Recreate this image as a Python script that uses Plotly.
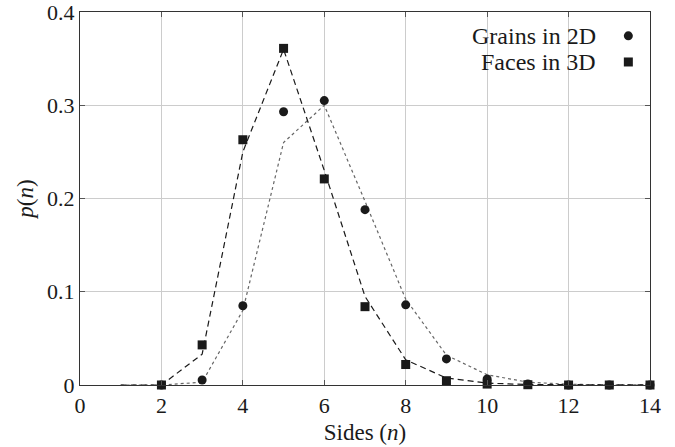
import plotly.graph_objects as go

# ---- data ----
n_fit = [1, 2, 3, 4, 5, 6, 7, 8, 9, 10, 11, 12, 13, 14]
grains_fit = [0, 0, 0.003, 0.08, 0.26, 0.30, 0.197, 0.092, 0.032, 0.011, 0.003, 0.0008, 0.0002, 0]
faces_fit = [0, 0, 0.033, 0.25, 0.36, 0.23, 0.095, 0.027, 0.0075, 0.002, 0.0005, 0.0001, 0, 0]

n_pts = [2, 3, 4, 5, 6, 7, 8, 9, 10, 11, 12, 13, 14]
grains_2d = [0, 0.0054, 0.085, 0.293, 0.305, 0.188, 0.086, 0.028, 0.0065, 0.0012, 0, 0, 0]
faces_3d = [0, 0.043, 0.263, 0.361, 0.221, 0.084, 0.022, 0.0046, 0.001, 0.0003, 0, 0, 0]

x_ticks = [0, 2, 4, 6, 8, 10, 12, 14]
y_ticks = [0, 0.1, 0.2, 0.3, 0.4]
y_tick_text = ["0", "0.1", "0.2", "0.3", "0.4"]
legend_names = ["Grains in 2D", "Faces in 3D"]

FONT = "Liberation Serif"
INK = "#1a1a1a"

fig = go.Figure()
fig.add_trace(go.Scatter(x=n_fit, y=grains_fit, mode="lines",
                         line=dict(color="#666666", width=1.2, dash="dot"),
                         showlegend=False, hoverinfo="skip"))
fig.add_trace(go.Scatter(x=n_fit, y=faces_fit, mode="lines",
                         line=dict(color=INK, width=1.2, dash="6px,4px"),
                         showlegend=False, hoverinfo="skip"))
fig.add_trace(go.Scatter(x=n_pts, y=grains_2d, mode="markers", name=legend_names[0],
                         marker=dict(symbol="circle", size=9, color=INK),
                         cliponaxis=False, showlegend=False))
fig.add_trace(go.Scatter(x=n_pts, y=faces_3d, mode="markers", name=legend_names[1],
                         marker=dict(symbol="square", size=9, color=INK),
                         cliponaxis=False, showlegend=False))

# manual legend (text left, symbol right)
leg_x_text = 0.909
leg_x_sym = 0.962
leg_y = [0.936, 0.866]
for name, yy in zip(legend_names, leg_y):
    fig.add_annotation(x=leg_x_text, y=yy, xref="paper", yref="paper",
                       text=name, showarrow=False, xanchor="right", yanchor="middle",
                       font=dict(family=FONT, size=24, color=INK))
fig.add_shape(type="circle", xref="paper", yref="paper",
              xsizemode="pixel", ysizemode="pixel",
              xanchor=leg_x_sym, yanchor=leg_y[0],
              x0=-4.5, x1=4.5, y0=-4.5, y1=4.5,
              fillcolor=INK, line=dict(width=0))
fig.add_shape(type="rect", xref="paper", yref="paper",
              xsizemode="pixel", ysizemode="pixel",
              xanchor=leg_x_sym, yanchor=leg_y[1],
              x0=-4.5, x1=4.5, y0=-4.5, y1=4.5,
              fillcolor=INK, line=dict(width=0))

axis_common = dict(showgrid=True, gridcolor="#cccccc", gridwidth=1,
                   showline=True, linecolor="#333333", linewidth=1.2, mirror="ticks",
                   ticks="inside", ticklen=5, tickcolor="#555555", automargin=False,
                   ticklabeloverflow="allow",
                   zeroline=False, tickfont=dict(family=FONT, size=22, color=INK))

fig.update_xaxes(range=[0, 14], tickvals=x_ticks, **axis_common,
                 title=dict(text="Sides (<i>n</i>)", font=dict(family=FONT, size=23, color=INK),
                            standoff=7))
fig.update_yaxes(range=[0, 0.4], tickvals=y_ticks, ticktext=y_tick_text, **axis_common,
                 title=dict(text="<i>p</i>(<i>n</i>)", font=dict(family=FONT, size=23, color=INK),
                            standoff=6))

fig.update_layout(width=675, height=447,
                  margin=dict(l=80, r=25, t=12, b=62),
                  paper_bgcolor="white", plot_bgcolor="white",
                  showlegend=False)

fig.write_html("out.html", config={"displayModeBar": False},
               post_script="document.body.style.margin='0';document.body.style.padding='0';")
